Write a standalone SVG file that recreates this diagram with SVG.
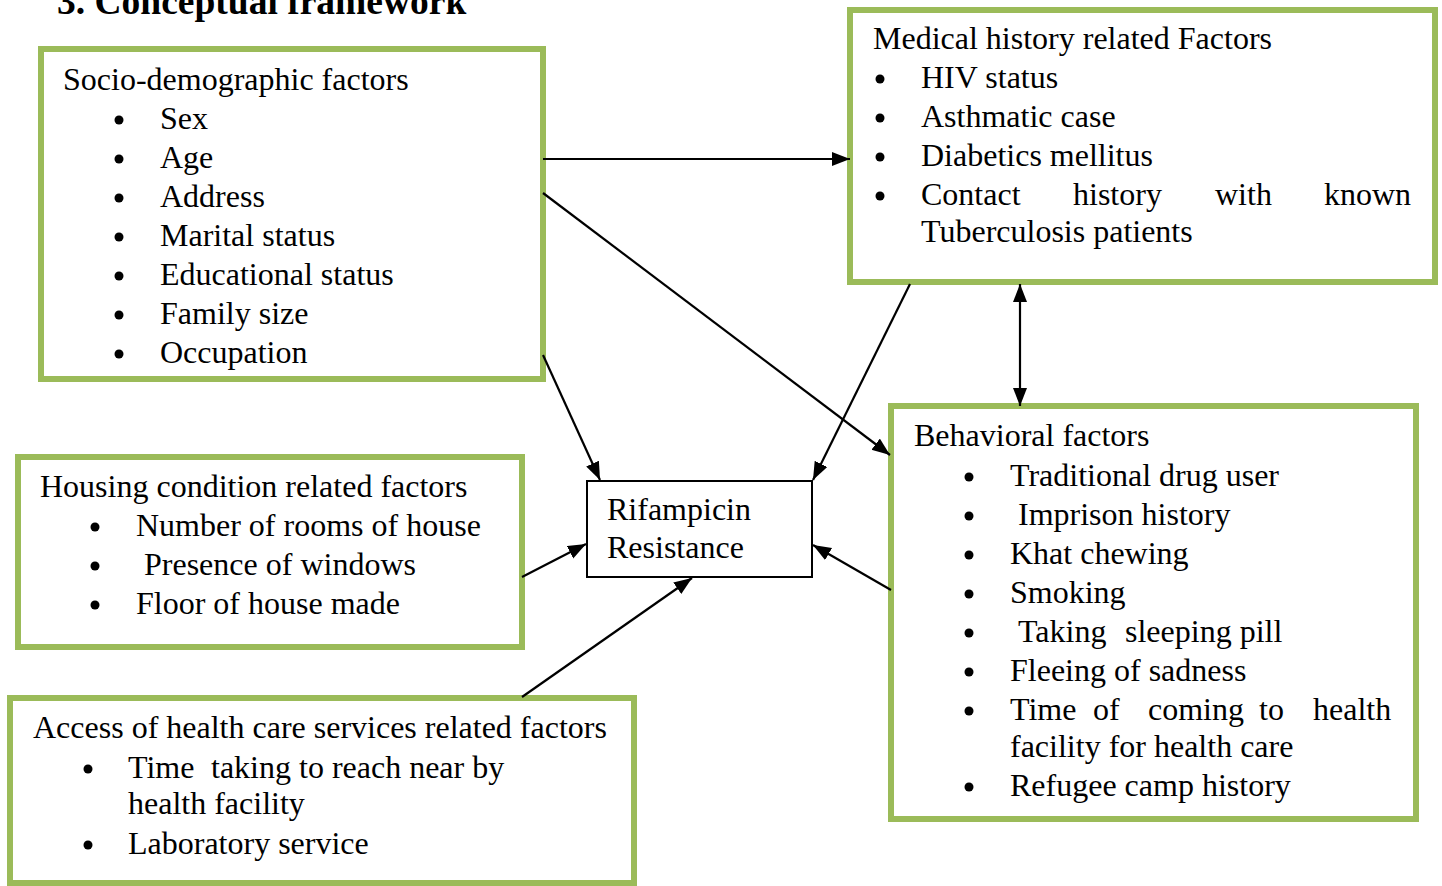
<svg xmlns="http://www.w3.org/2000/svg" width="1442" height="886" viewBox="0 0 1442 886">
<defs>
<style>
.box{fill:#fff;stroke:#9BBB59;stroke-width:6}
.rbox{fill:#fff;stroke:#000;stroke-width:2}
text{font-family:"Liberation Serif","Times New Roman",serif;font-size:32px;fill:#000}
.title{font-weight:bold;font-size:37.5px}
.b{fill:#000}
.con{stroke:#000;stroke-width:2.2;fill:none;marker-end:url(#ah)}
</style>
<marker id="ah" markerUnits="userSpaceOnUse" markerWidth="20" markerHeight="16" refX="18" refY="7" orient="auto-start-reverse" viewBox="0 0 20 16">
<path d="M0,0 L18,7 L0,14 z" fill="#000"/>
</marker>
</defs>
<rect width="1442" height="886" fill="#fff"/>
<text class="title" x="57" y="14">3. Conceptual framework</text>

<g id="socio">
<rect class="box" x="41" y="49" width="502" height="330"/>
<text x="63" y="90">Socio-demographic factors</text>
<circle class="b" cx="119" cy="120" r="4.5"/><text x="160" y="129">Sex</text>
<circle class="b" cx="119" cy="159" r="4.5"/><text x="160" y="168">Age</text>
<circle class="b" cx="119" cy="198" r="4.5"/><text x="160" y="207">Address</text>
<circle class="b" cx="119" cy="237" r="4.5"/><text x="160" y="246">Marital status</text>
<circle class="b" cx="119" cy="276" r="4.5"/><text x="160" y="285">Educational status</text>
<circle class="b" cx="119" cy="315" r="4.5"/><text x="160" y="324">Family size</text>
<circle class="b" cx="119" cy="354" r="4.5"/><text x="160" y="363">Occupation</text>
</g>

<g id="medical">
<rect class="box" x="850" y="10" width="585" height="272"/>
<text x="873" y="49">Medical history related Factors</text>
<circle class="b" cx="880" cy="79" r="4.5"/><text x="921" y="88">HIV status</text>
<circle class="b" cx="880" cy="118" r="4.5"/><text x="921" y="127">Asthmatic case</text>
<circle class="b" cx="880" cy="157" r="4.5"/><text x="921" y="166">Diabetics mellitus</text>
<circle class="b" cx="880" cy="196" r="4.5"/>
<text y="205"><tspan x="921">Contact</tspan><tspan x="1073">history</tspan><tspan x="1215">with</tspan><tspan x="1324">known</tspan></text>
<text x="921" y="242">Tuberculosis patients</text>
</g>

<g id="behavioral">
<rect class="box" x="891" y="406" width="525" height="413"/>
<text x="914" y="446">Behavioral factors</text>
<circle class="b" cx="969" cy="477" r="4.5"/><text x="1010" y="486">Traditional drug user</text>
<circle class="b" cx="969" cy="516" r="4.5"/><text x="1018" y="525">Imprison history</text>
<circle class="b" cx="969" cy="555" r="4.5"/><text x="1010" y="564">Khat chewing</text>
<circle class="b" cx="969" cy="594" r="4.5"/><text x="1010" y="603">Smoking</text>
<circle class="b" cx="969" cy="633" r="4.5"/><text y="642"><tspan x="1018">Taking</tspan><tspan x="1125">sleeping pill</tspan></text>
<circle class="b" cx="969" cy="672" r="4.5"/><text x="1010" y="681">Fleeing of sadness</text>
<circle class="b" cx="969" cy="711" r="4.5"/>
<text y="720"><tspan x="1010">Time</tspan><tspan x="1093">of</tspan><tspan x="1148">coming</tspan><tspan x="1259">to</tspan><tspan x="1313">health</tspan></text>
<text x="1010" y="757">facility for health care</text>
<circle class="b" cx="969" cy="787" r="4.5"/><text x="1010" y="796">Refugee camp history</text>
</g>

<g id="housing">
<rect class="box" x="18" y="457" width="504" height="190"/>
<text x="40" y="497">Housing condition related factors</text>
<circle class="b" cx="95" cy="527" r="4.5"/><text x="136" y="536">Number of rooms of house</text>
<circle class="b" cx="95" cy="566" r="4.5"/><text x="144" y="575">Presence of windows</text>
<circle class="b" cx="95" cy="605" r="4.5"/><text x="136" y="614">Floor of house made</text>
</g>

<g id="access">
<rect class="box" x="10" y="698" width="624" height="185"/>
<text x="33" y="738">Access of health care services related factors</text>
<circle class="b" cx="88" cy="769" r="4.5"/><text y="778"><tspan x="128">Time</tspan><tspan x="211">taking to reach near by</tspan></text>
<text x="128" y="814">health facility</text>
<circle class="b" cx="88" cy="845" r="4.5"/><text x="128" y="854">Laboratory service</text>
</g>

<g id="rifampicin">
<rect class="rbox" x="587" y="481" width="225" height="96"/>
<text x="607" y="520">Rifampicin</text>
<text x="607" y="558">Resistance</text>
</g>

<g id="connectors">
<path class="con" d="M543,159 L850,159"/>
<path class="con" d="M543,193 L890,455"/>
<path class="con" d="M543,355 L600,480"/>
<path class="con" d="M910,284 L813,480"/>
<path class="con" d="M1020,284 L1020,406" style="marker-start:url(#ah)"/>
<path class="con" d="M522,577 L586,544"/>
<path class="con" d="M522,697 L692,578"/>
<path class="con" d="M891,590 L813,545"/>
</g>
</svg>
